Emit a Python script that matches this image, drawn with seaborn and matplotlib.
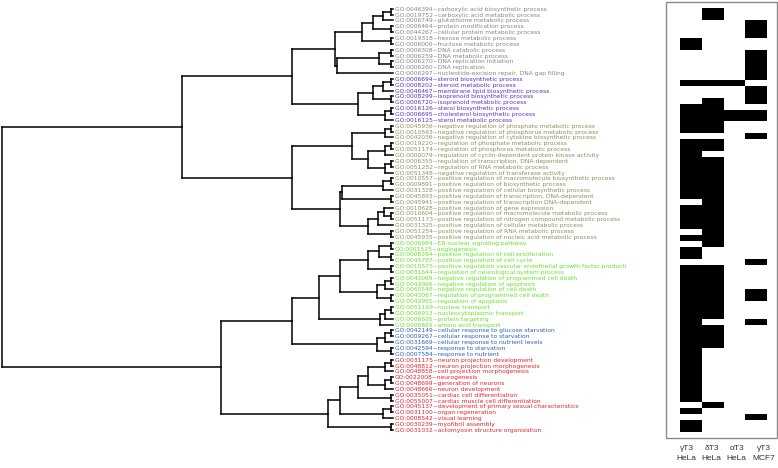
import numpy as np
import pandas as pd
import seaborn as sns
import matplotlib.pyplot as plt
from matplotlib.patches import Rectangle

# GO terms, top to bottom
go_terms = [
    "GO:0046394~carboxylic acid biosynthetic process",
    "GO:0019752~carboxylic acid metabolic process",
    "GO:0006749~glutathione metabolic process",
    "GO:0006464~protein modification process",
    "GO:0044267~cellular protein metabolic process",
    "GO:0019318~hexose metabolic process",
    "GO:0006000~fructose metabolic process",
    "GO:0006308~DNA catabolic process",
    "GO:0006259~DNA metabolic process",
    "GO:0006270~DNA replication initiation",
    "GO:0006260~DNA replication",
    "GO:0006297~nucleotide-excision repair, DNA gap filling",
    "GO:0006694~steroid biosynthetic process",
    "GO:0008202~steroid metabolic process",
    "GO:0046467~membrane lipid biosynthetic process",
    "GO:0008299~isoprenoid biosynthetic process",
    "GO:0006720~isoprenoid metabolic process",
    "GO:0016126~sterol biosynthetic process",
    "GO:0006695~cholesterol biosynthetic process",
    "GO:0016125~sterol metabolic process",
    "GO:0045936~negative regulation of phosphate metabolic process",
    "GO:0010563~negative regulation of phosphorus metabolic process",
    "GO:0042036~negative regulation of cytokine biosynthetic process",
    "GO:0019220~regulation of phosphate metabolic process",
    "GO:0051174~regulation of phosphorus metabolic process",
    "GO:0000079~regulation of cyclin-dependent protein kinase activity",
    "GO:0006355~regulation of transcription, DNA-dependent",
    "GO:0051252~regulation of RNA metabolic process",
    "GO:0051348~negative regulation of transferase activity",
    "GO:0010557~positive regulation of macromolecule biosynthetic process",
    "GO:0009891~positive regulation of biosynthetic process",
    "GO:0031328~positive regulation of cellular biosynthetic process",
    "GO:0045893~positive regulation of transcription, DNA-dependent",
    "GO:0045941~positive regulation of transcription DNA-dependent",
    "GO:0010628~positive regulation of gene expression",
    "GO:0010604~positive regulation of macromolecule metabolic process",
    "GO:0051173~positive regulation of nitrogen compound metabolic process",
    "GO:0031325~positive regulation of cellular metabolic process",
    "GO:0051254~positive regulation of RNA metabolic process",
    "GO:0045935~positive regulation of nucleic acid metabolic process",
    "GO:0006984~ER-nuclear signaling pathway",
    "GO:0001525~angiogenesis",
    "GO:0008284~positive regulation of cell proliferation",
    "GO:0045787~positive regulation of cell cycle",
    "GO:0010575~positive regulation vascular endothelial growth factor producti",
    "GO:0031644~regulation of neurological system process",
    "GO:0043069~negative regulation of programmed cell death",
    "GO:0043066~negative regulation of apoptosis",
    "GO:0060548~negative regulation of cell death",
    "GO:0043067~regulation of programmed cell death",
    "GO:0042981~regulation of apoptosis",
    "GO:0051169~nuclear transport",
    "GO:0006913~nucleocytoplasmic transport",
    "GO:0006605~protein targeting",
    "GO:0006865~amino acid transport",
    "GO:0042149~cellular response to glucose starvation",
    "GO:0009267~cellular response to starvation",
    "GO:0031669~cellular response to nutrient levels",
    "GO:0042594~response to starvation",
    "GO:0007584~response to nutrient",
    "GO:0031175~neuron projection development",
    "GO:0048812~neuron projection morphogenesis",
    "GO:0048858~cell projection morphogenesis",
    "GO:0022008~neurogenesis",
    "GO:0048699~generation of neurons",
    "GO:0048666~neuron development",
    "GO:0035051~cardiac cell differentiation",
    "GO:0055007~cardiac muscle cell differentiation",
    "GO:0045137~development of primary sexual characteristics",
    "GO:0031100~organ regeneration",
    "GO:0008542~visual learning",
    "GO:0030239~myofibril assembly",
    "GO:0031032~actomyosin structure organization",
]

cluster_sizes = [12, 8, 20, 15, 5, 13]
cluster_colors = ["#858585", "#5b2ec6", "#8f8f5e", "#66e22c", "#2f5fb8", "#e2222e"]

# dendrogram: (height, top child, bottom child); ints are leaf rows
gray = (14.8, (7.9, (5.0, (2.5, (0.6, 0, 1), 2), (0.6, 3, 4)), (0.6, 5, 6)),
        (14.3, (3.6, (0.6, 7, 8), (0.6, 9, 10)), 11))
purple = (9.0, (5.0, (2.5, (0.6, 12, 13), 14), (0.6, 15, 16)), (2.0, (0.6, 17, 18), 19))
olive_top = (10.6, (2.0, (0.6, 20, 21), 22),
             (6.4, (2.0, (0.6, 23, 24), 25), (2.0, (0.6, 26, 27), 28)))
olive_bot = (13.6, (13.0, (2.5, (0.6, 29, 30), 31), (0.6, 32, 33)),
             (6.4, (3.8, (2.3, 34, (0.6, 35, 36)), 37), (0.6, 38, 39)))
green = (18.9, (13.6, (6.4, (3.6, (0.6, 40, 41), (0.6, 42, 43)), (0.6, 44, 45)),
                (4.0, (2.0, (0.6, 46, 47), 48), (0.6, 49, 50))),
         (3.3, (2.0, (0.6, 51, 52), 53), 54))
blue = (4.2, (2.0, (0.6, 55, 56), 57), (0.6, 58, 59))
red = (16.6, (13.6, (9.0, (6.4, (2.0, (0.6, 60, 61), 62), (2.0, (0.6, 63, 64), 65)),
                     (0.6, 66, 67)),
              (2.5, (0.6, 68, 69), 70)),
       (0.6, 71, 72))
tree = (100.0, (54.0, (25.9, gray, purple), (25.9, olive_top, olive_bot)),
        (44.1, (25.9, green, blue), red))

# enriched terms per sample, as runs of rows (first, last)
col_names = ["γT3\nHeLa", "δT3\nHeLa", "αT3\nHeLa", "γT3\nMCF7"]
runs_gT3_hela = [(6, 7), (13, 13), (17, 21), (23, 32), (34, 37), (39, 39), (41, 42),
                 (44, 66), (68, 68), (70, 71)]
runs_dT3_hela = [(1, 2), (13, 13), (16, 21), (23, 24), (26, 40), (44, 52), (54, 57),
                 (67, 67)]
runs_aT3_hela = [(13, 13), (18, 19)]
runs_gT3_mcf7 = [(3, 5), (8, 12), (14, 16), (18, 19), (22, 22), (43, 43), (48, 49),
                 (53, 53), (69, 69)]

df = pd.DataFrame(0, index=go_terms, columns=col_names)
for col, runs in zip(col_names, [runs_gT3_hela, runs_dT3_hela, runs_aT3_hela, runs_gT3_mcf7]):
    for a, b in runs:
        df.iloc[a:b + 1, df.columns.get_loc(col)] = 1

W, H = 778, 468
fig = plt.figure(figsize=(W / 100, H / 100), dpi=100)


def frame(l, t, r, b):
    return [l / W, 1 - b / H, (r - l) / W, (b - t) / H]


ax = fig.add_axes(frame(2, 5.8, 393, 432.8))


def draw(node):
    if isinstance(node, int):
        return 0.0, float(node)
    h, a, b = node
    ha, ya = draw(a)
    hb, yb = draw(b)
    kw = dict(color="black", lw=1.1, solid_capstyle="projecting", clip_on=False)
    ax.plot([h, h], [ya, yb], **kw)
    ax.plot([ha, h], [ya, ya], **kw)
    ax.plot([hb, h], [yb, yb], **kw)
    return h, (ya + yb) / 2


draw(tree)
ax.set_xlim(100, 0)
ax.set_ylim(len(go_terms) - 0.5, -0.5)
ax.set_xticks([])
ax.set_yticks(range(len(go_terms)))
ax.set_yticklabels(go_terms, fontsize=4.3, family="DejaVu Sans")
ax.yaxis.tick_right()
ax.tick_params(axis="y", length=0, pad=1.5)
term_colors = np.repeat(cluster_colors, cluster_sizes)
for lab, c in zip(ax.get_yticklabels(), term_colors):
    lab.set_color(c)
for s in ax.spines.values():
    s.set_visible(False)

# heatmap sits inside a grey frame
hax = fig.add_axes(frame(680, 2, 767, 438))
sns.heatmap(df, ax=hax, cmap=["white", "black"], cbar=False, vmin=0, vmax=1,
            yticklabels=False)
# sample names sit slightly right of the column centres, as in the source figure
hax.set_xticks([0.3, 1.45, 2.6, 3.85])
hax.set_xticklabels(col_names, rotation=0, family="Liberation Sans", linespacing=1.7)
hax.tick_params(axis="x", length=0, pad=5, labelsize=6, colors="#333333")
fig.patches.append(Rectangle((666 / W, 1 - 438 / H), 111 / W, 436 / H,
                             transform=fig.transFigure, fill=False,
                             ec="#8a8a8a", lw=1.0))

fig.savefig("out.png", dpi=100)
